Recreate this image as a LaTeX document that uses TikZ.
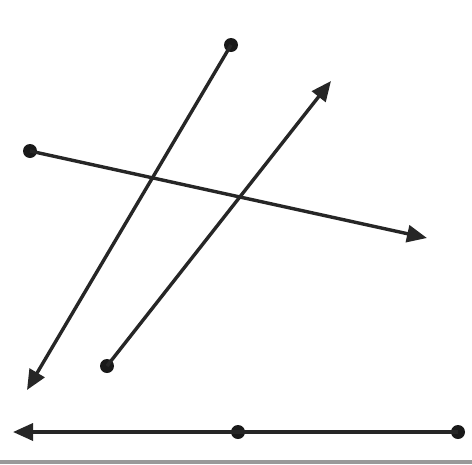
\documentclass[tikz,border=0pt]{standalone}
\usetikzlibrary{arrows.meta}
\begin{document}
\begin{tikzpicture}[x=1pt,y=-1pt,
  ln/.style={line width=3.4pt,black!85,-{Triangle[length=20pt,width=17pt]}},
  seg/.style={line width=3.4pt,black!85},
  pt/.style={circle,fill=black!90,inner sep=0pt,minimum size=14pt}]
\useasboundingbox (0,0) rectangle (472,464);
\fill[white] (0,0) rectangle (472,464);
\fill[black!40] (0,460) rectangle (472,464);
\node[pt] (a) at (231,45) {};
\coordinate (a2) at (27,390);
\node[pt] (b) at (107,366) {};
\coordinate (b2) at (331,81);
\node[pt] (c) at (30,151) {};
\coordinate (c2) at (427,238);
\node[pt] (d) at (238,432) {};
\node[pt] (e) at (458,432) {};
\coordinate (f) at (13,432);
\draw[ln] (a.center) -- (a2);
\draw[ln] (b.center) -- (b2);
\draw[ln] (c.center) -- (c2);
\draw[seg] (e.center) -- (d.center);
\draw[ln] (d.center) -- (f);
\end{tikzpicture}
\end{document}
